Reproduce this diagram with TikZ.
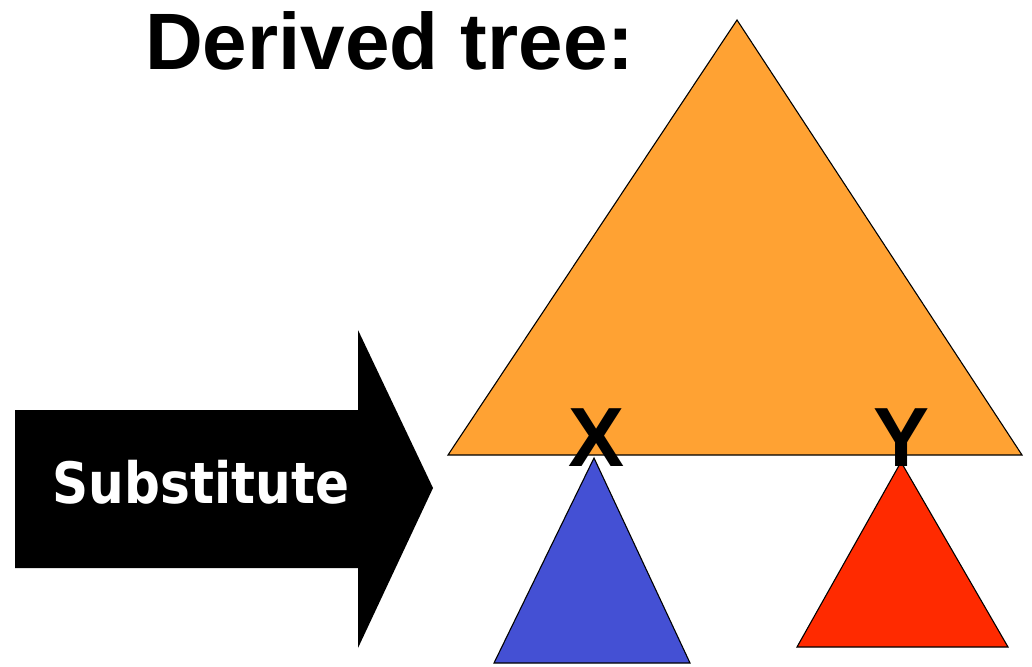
\documentclass[tikz,border=0pt]{standalone}
\usepackage{fontspec}
\setmainfont{Liberation Sans}
\newfontfamily\subfont[FakeStretch=0.88]{DejaVu Sans}
\definecolor{treeorange}{RGB}{255,162,51}
\definecolor{treeblue}{RGB}{68,80,212}
\definecolor{treered}{RGB}{255,42,0}
\usetikzlibrary{positioning}

\tikzset{
  tri/.style={draw=black, line width=1.1pt, line join=miter},
  slot/.style={font=\fontsize{84}{90}\selectfont\bfseries, inner sep=0pt, anchor=base}
}

\begin{document}
\begin{tikzpicture}[x=1pt, y=-1pt]
  \useasboundingbox (0,0) rectangle (1032,666);
  % Title
  \node[font=\fontsize{80}{88}\selectfont\bfseries, inner sep=0pt, anchor=base west] (title) at (145,70) {Derived tree:};
  % Substitute arrow
  \coordinate (arrtail) at (15,410);
  \coordinate (arrtip) at (433,488);
  \fill[black] (arrtail) -- (358,410) -- (358,330) -- (arrtip) -- (358,648) -- (358,568) -- (15,568) -- cycle;
  \node[font=\subfont\bfseries\fontsize{57}{62}\selectfont, text=white, inner sep=0pt, anchor=base] (subst) at (201,503) {Substitute};
  % Derived tree
  \coordinate (top) at (737,20);
  \filldraw[tri, fill=treeorange] (top) -- (1022,455) -- (448,455) -- cycle;
  % Substituted trees
  \coordinate (xroot) at (594,458);
  \coordinate (yroot) at (901,462);
  \filldraw[tri, fill=treeblue] (xroot) -- (690,663) -- (494,663) -- cycle;
  \filldraw[tri, fill=treered] (yroot) -- (1008,647) -- (797,647) -- cycle;
  % Labels
  \node[slot] (xlabel) at (597,466) {X};
  \node[slot] (ylabel) at (901,466) {Y};
\end{tikzpicture}
\end{document}
